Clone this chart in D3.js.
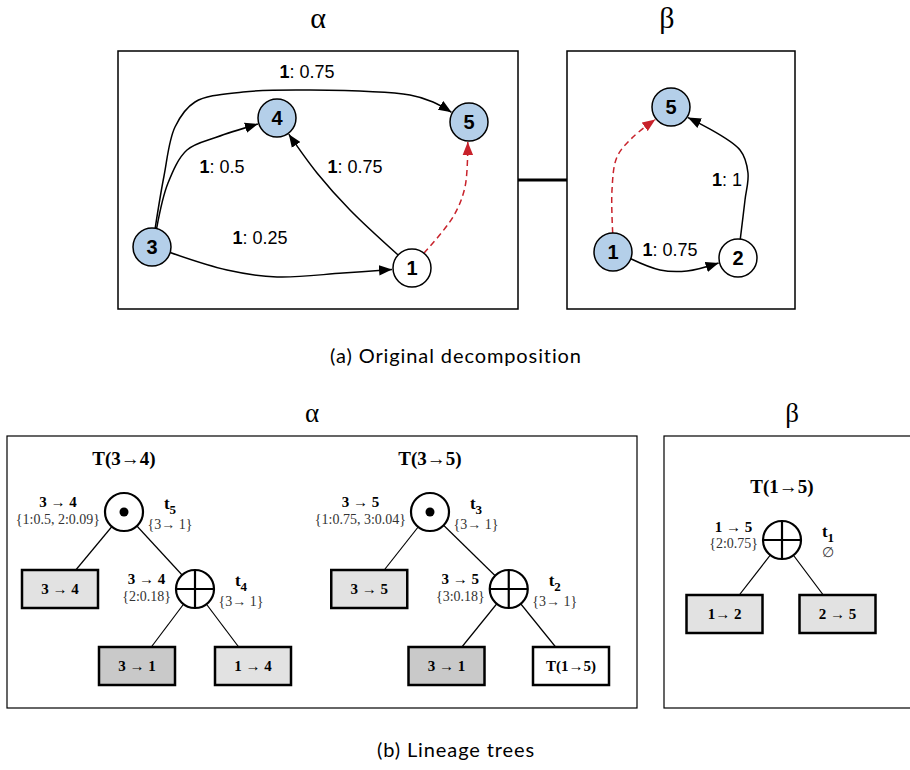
<!DOCTYPE html>
<html>
<head>
<meta charset="utf-8">
<script src="https://cdn.jsdelivr.net/npm/d3@7"></script>
<style>
  body { margin: 0; background: #fff; }
</style>
</head>
<body>
<div class="figure"></div>
<script>
// ---- (a) original decomposition: components and their edges ----
let alphaNodes = [
  { id: '3', seed: true },
  { id: '4', seed: true },
  { id: '5', seed: true },
  { id: '1', seed: false }
];
let alphaEdges = [
  { source: '3', target: '5', from: 1, weight: 0.75 },
  { source: '3', target: '4', from: 1, weight: 0.5 },
  { source: '3', target: '1', from: 1, weight: 0.25 },
  { source: '1', target: '4', from: 1, weight: 0.75 },
  { source: '1', target: '5', inferred: true }
];
let betaNodes = [
  { id: '5', seed: true },
  { id: '1', seed: true },
  { id: '2', seed: false }
];
let betaEdges = [
  { source: '1', target: '2', from: 1, weight: 0.75 },
  { source: '2', target: '5', from: 1, weight: 1 },
  { source: '1', target: '5', inferred: true }
];

// ---- (b) lineage trees ----
let tree34 = {
  op: 'odot', edge: '3 → 4', probs: '{1:0.5, 2:0.09}', step: '5', cond: '{3→ 1}',
  children: [
    { leaf: '3 → 4', kind: 'agg' },
    { op: 'oplus', edge: '3 → 4', probs: '{2:0.18}', step: '4', cond: '{3→ 1}',
      children: [{ leaf: '3 → 1', kind: 'base' }, { leaf: '1 → 4', kind: 'agg' }] }
  ]
};
let tree35 = {
  op: 'odot', edge: '3 → 5', probs: '{1:0.75, 3:0.04}', step: '3', cond: '{3→ 1}',
  children: [
    { leaf: '3 → 5', kind: 'agg' },
    { op: 'oplus', edge: '3 → 5', probs: '{3:0.18}', step: '2', cond: '{3→ 1}',
      children: [{ leaf: '3 → 1', kind: 'base' }, { leaf: 'T(1→5)', kind: 'ref' }] }
  ]
};
let tree15 = {
  op: 'oplus', edge: '1 → 5', probs: '{2:0.75}', step: '1', cond: '∅',
  children: [{ leaf: '1→ 2', kind: 'agg' }, { leaf: '2 → 5', kind: 'agg' }]
};

let captions = ['(a) Original decomposition', '(b) Lineage trees'];

// ---- layout ----
let graphPanels = [
  { name: 'α', labelX: 318, nodes: alphaNodes, edges: alphaEdges, box: [118, 51, 400, 258],
    pos: { '3': [34, 196], '4': [159, 67], '5': [351, 71], '1': [294, 217] },
    via: {
      '35': [[46, 125], [57, 76], [77, 51], [125, 41], [192, 39], [292, 44], [315, 51]],
      '34': [[50, 132], [69, 99], [99, 86]],
      '31': [[109, 219], [159, 226], [225, 222]],
      '14': [[232, 159], [199, 122]],
      '15': [[335, 166], [347, 136]]
    },
    tag: { '35': [189, 21], '34': [104, 116], '31': [142, 187], '14': [237, 116] } },
  { name: 'β', labelX: 667, nodes: betaNodes, edges: betaEdges, box: [567, 51, 228, 258],
    pos: { '5': [104, 56], '1': [46, 201], '2': [171, 207] },
    via: {
      '12': [[93, 219], [120, 220]],
      '25': [[178, 149], [181, 122], [173, 99]],
      '15': [[45, 139], [50, 106], [66, 86]]
    },
    tag: { '12': [103, 199], '25': [160, 129] } }
];

let treeSpecs = [
  { title: 'T(3→4)', data: tree34, at: [127.5, 512], shift: -3.5, gaps: [135, 116], dy: 77, nameDy: -5, probsDy: 12 },
  { title: 'T(3→5)', data: tree35, at: [439, 512], shift: -9, gaps: [139.5, 124.5], dy: 77, nameDy: -5, probsDy: 12 },
  { title: 'T(1→5)', data: tree15, at: [781, 540], shift: 1, gaps: [113, 113], dy: 74, nameDy: -8, probsDy: 8 }
];
let treeBoxes = [
  { name: 'α', box: [7, 436, 630, 272], labelX: 312 },
  { name: 'β', box: [664, 436, 260, 272], labelX: 792 }
];

const R = 19;
const seedFill = '#b4cfe9';
const red = '#c8222b';
const leafFill = { agg: '#e2e2e2', base: '#c9c9c9', ref: '#ffffff' };
const sans = "'Liberation Sans', Arial, sans-serif";

let canvas = d3.select('.figure')
  .append('svg')
  .attr('width', 910)
  .attr('height', 770)
  .attr('font-family', "'Liberation Serif', 'Times New Roman', serif");

let defs = canvas.append('defs');
[['arrowBlack', '#000'], ['arrowRed', red]].forEach(([id, col]) => {
  defs.append('marker')
    .attr('id', id)
    .attr('viewBox', '-13 -5.5 13 11')
    .attr('markerUnits', 'userSpaceOnUse')
    .attr('markerWidth', 13)
    .attr('markerHeight', 11)
    .attr('refX', 0)
    .attr('refY', 0)
    .attr('orient', 'auto')
    .append('path')
    .attr('d', 'M0,0L-13,-5.2L-13,5.2Z')
    .attr('fill', col);
});

let lineFunction = d3.line()
  .x(d => d[0])
  .y(d => d[1])
  .curve(d3.curveCatmullRom.alpha(0.5));

function toward(c, p, r) {
  let dx = p[0] - c[0], dy = p[1] - c[1];
  let len = Math.hypot(dx, dy);
  return [c[0] + r * dx / len, c[1] + r * dy / len];
}

// ---- draw (a) ----
graphPanels.forEach(p => {
  let [bx, by, bw, bh] = p.box;
  canvas.append('text')
    .attr('x', p.labelX)
    .attr('y', 28)
    .attr('text-anchor', 'middle')
    .attr('font-size', 30)
    .text(p.name);

  let g = canvas.append('g').attr('transform', `translate(${bx},${by})`);
  g.append('rect')
    .attr('width', bw)
    .attr('height', bh)
    .attr('fill', 'none')
    .attr('stroke', '#000')
    .attr('stroke-width', 1.5);

  p.edges.forEach(e => {
    let key = e.source + e.target;
    let via = p.via[key];
    let a = p.pos[e.source], b = p.pos[e.target];
    let pts = [toward(a, via[0], R), ...via, toward(b, via[via.length - 1], R + 1)];
    g.append('path')
      .attr('d', lineFunction(pts))
      .attr('fill', 'none')
      .attr('stroke', e.inferred ? red : '#000')
      .attr('stroke-width', 1.5)
      .attr('stroke-dasharray', e.inferred ? '6,4' : null)
      .attr('marker-end', `url(#${e.inferred ? 'arrowRed' : 'arrowBlack'})`);

    if (!e.inferred) {
      let t = g.append('text')
        .attr('x', p.tag[key][0])
        .attr('y', p.tag[key][1])
        .attr('dy', '0.35em')
        .attr('text-anchor', 'middle')
        .attr('font-family', sans)
        .attr('font-size', 18);
      t.append('tspan').attr('font-weight', 'bold').text(e.from);
      t.append('tspan').text(': ' + e.weight);
    }
  });

  let nodes = g.selectAll('g.node')
    .data(p.nodes)
    .join('g')
    .attr('class', 'node')
    .attr('transform', d => `translate(${p.pos[d.id][0]},${p.pos[d.id][1]})`);
  nodes.append('circle')
    .attr('r', R)
    .attr('fill', d => d.seed ? seedFill : '#fff')
    .attr('stroke', '#000')
    .attr('stroke-width', 1.5);
  nodes.append('text')
    .attr('dy', '0.36em')
    .attr('text-anchor', 'middle')
    .attr('font-family', sans)
    .attr('font-weight', 'bold')
    .attr('font-size', 20)
    .text(d => d.id);
});

// connector between the two components
canvas.append('line')
  .attr('x1', graphPanels[0].box[0] + graphPanels[0].box[2])
  .attr('x2', graphPanels[1].box[0])
  .attr('y1', graphPanels[0].box[1] + graphPanels[0].box[3] / 2)
  .attr('y2', graphPanels[0].box[1] + graphPanels[0].box[3] / 2)
  .attr('stroke', '#000')
  .attr('stroke-width', 3);

// ---- draw (b) ----
treeBoxes.forEach(b => {
  canvas.append('rect')
    .attr('x', b.box[0])
    .attr('y', b.box[1])
    .attr('width', b.box[2])
    .attr('height', b.box[3])
    .attr('fill', 'none')
    .attr('stroke', '#000')
    .attr('stroke-width', 1.2);
  canvas.append('text')
    .attr('x', b.labelX)
    .attr('y', 422)
    .attr('text-anchor', 'middle')
    .attr('font-size', 27)
    .text(b.name);
});

treeSpecs.forEach(s => {
  let root = d3.hierarchy(s.data);
  d3.tree()
    .nodeSize([1, s.dy])
    .separation(a => a.depth === 1 ? s.gaps[0] : s.gaps[1])(root);
  root.x += s.shift;

  let g = canvas.append('g').attr('transform', `translate(${s.at[0]},${s.at[1]})`);

  g.selectAll('line.link')
    .data(root.links())
    .join('line')
    .attr('class', 'link')
    .attr('x1', d => d.source.x)
    .attr('y1', d => d.source.y)
    .attr('x2', d => d.target.x)
    .attr('y2', d => d.target.y)
    .attr('stroke', '#000')
    .attr('stroke-width', 1.2);

  g.append('text')
    .attr('x', root.x)
    .attr('y', root.y - 47)
    .attr('text-anchor', 'middle')
    .attr('font-weight', 'bold')
    .attr('font-size', 19)
    .text(s.title);

  let node = g.selectAll('g.tnode')
    .data(root.descendants())
    .join('g')
    .attr('class', 'tnode')
    .attr('transform', d => `translate(${d.x},${d.y})`);

  let leaves = node.filter(d => d.data.leaf);
  leaves.append('rect')
    .attr('x', -38)
    .attr('y', -19)
    .attr('width', 76)
    .attr('height', 38)
    .attr('fill', d => leafFill[d.data.kind])
    .attr('stroke', '#000')
    .attr('stroke-width', 2.5);
  leaves.append('text')
    .attr('y', 5)
    .attr('text-anchor', 'middle')
    .attr('font-weight', 'bold')
    .attr('font-size', 15)
    .text(d => d.data.leaf);

  let ops = node.filter(d => d.data.op);
  ops.append('circle')
    .attr('r', R)
    .attr('fill', '#fff')
    .attr('stroke', '#000')
    .attr('stroke-width', 2.2);
  ops.filter(d => d.data.op === 'odot').append('circle')
    .attr('r', 4.5)
    .attr('fill', '#000');
  let plus = ops.filter(d => d.data.op === 'oplus');
  plus.append('line').attr('x1', -R).attr('x2', R).attr('stroke', '#000').attr('stroke-width', 2.2);
  plus.append('line').attr('y1', -R).attr('y2', R).attr('stroke', '#000').attr('stroke-width', 2.2);

  ops.each(function (d) {
    let n = d3.select(this);
    let pr = n.append('text')
      .attr('x', -24)
      .attr('y', s.probsDy)
      .attr('text-anchor', 'end')
      .attr('font-size', 14)
      .attr('fill', '#333')
      .text(d.data.probs);
    let w = pr.node().getComputedTextLength();
    n.append('text')
      .attr('x', -24 - w / 2)
      .attr('y', s.nameDy)
      .attr('text-anchor', 'middle')
      .attr('font-weight', 'bold')
      .attr('font-size', 15)
      .text(d.data.edge);

    let st = n.append('text')
      .attr('x', 46)
      .attr('y', -3)
      .attr('text-anchor', 'middle')
      .attr('font-weight', 'bold')
      .attr('font-size', 17);
    st.append('tspan').text('t');
    st.append('tspan').attr('font-size', 13).attr('dy', 5).text(d.data.step);
    n.append('text')
      .attr('x', 46)
      .attr('y', 17)
      .attr('text-anchor', 'middle')
      .attr('font-size', 14)
      .attr('fill', '#333')
      .text(d.data.cond);
  });
});

// ---- captions ----
[[captions[0], 363], [captions[1], 757]].forEach(([txt, y]) => {
  canvas.append('text')
    .attr('x', 456)
    .attr('y', y)
    .attr('text-anchor', 'middle')
    .attr('font-family', "Lato, 'Open Sans', sans-serif")
    .attr('font-size', 20)
    .attr('letter-spacing', 0.9)
    .text(txt);
});
</script>
</body>
</html>
